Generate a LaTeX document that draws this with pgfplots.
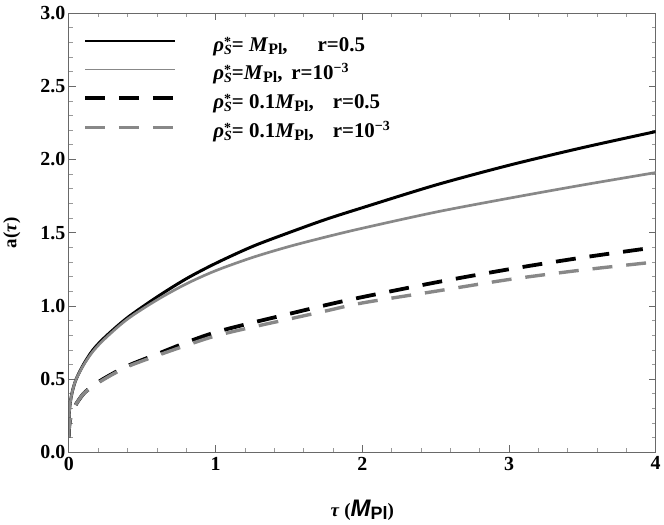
\documentclass[border=0pt]{standalone}
\usepackage{fontspec}
\setmainfont{Liberation Serif}
\setsansfont{Liberation Sans}
\usepackage{pgfplots}
\pgfplotsset{compat=1.18}

\definecolor{lgray}{RGB}{136,136,136}
\definecolor{framegray}{RGB}{105,105,105}

\newcommand{\rhoS}{{\fontsize{21}{21}\selectfont\itshape ρ}\rlap{\raisebox{5pt}{\fontsize{14}{14}\selectfont *}}\raisebox{-3pt}{\fontsize{14}{14}\selectfont\itshape S}}
\newcommand{\MPl}{\textit{M}\raisebox{-3pt}{\fontsize{16}{16}\selectfont Pl}}

\pgfplotstableread{
x y
0 0.12
0.002 0.25
0.01 0.34
0.025 0.42
0.05 0.50
0.1 0.60
0.165 0.70
0.25 0.79
0.4 0.92
0.6 1.06
0.8 1.185
1 1.29
1.25 1.405
1.5 1.50
1.75 1.59
2 1.67
2.5 1.825
3 1.96
3.5 2.08
4 2.19
}\bs

\pgfplotstableread{
x y
0 0.12
0.002 0.25
0.01 0.34
0.025 0.42
0.05 0.50
0.1 0.595
0.165 0.69
0.25 0.78
0.4 0.91
0.6 1.04
0.8 1.15
1 1.24
1.25 1.33
1.5 1.405
1.75 1.47
2 1.53
2.5 1.64
3 1.735
3.5 1.825
4 1.91
}\gs

\pgfplotstableread{
x y
0 0.10
0.002 0.17
0.01 0.23
0.025 0.28
0.05 0.33
0.1 0.40
0.165 0.455
0.25 0.51
0.4 0.59
0.6 0.67
0.8 0.75
1 0.82
1.25 0.885
1.5 0.945
1.75 1.005
2 1.06
2.5 1.16
3 1.25
3.5 1.33
4 1.40
}\bd

\pgfplotstableread{
x y
0 0.10
0.002 0.17
0.01 0.23
0.025 0.28
0.05 0.33
0.1 0.40
0.165 0.45
0.25 0.505
0.4 0.585
0.6 0.66
0.8 0.73
1 0.795
1.25 0.855
1.5 0.91
1.75 0.965
2 1.02
2.5 1.10
3 1.18
3.5 1.245
4 1.30
}\gd

\begin{document}
\begin{tikzpicture}
\begin{axis}[
  scale only axis, width=589pt, height=441pt,
  xmin=0, xmax=4, ymin=0, ymax=3,
  xtick={0,1,2,3,4}, ytick={0,0.5,1,1.5,2,2.5,3},
  minor x tick num=4, minor y tick num=4,
  tick align=inside, major tick length=7pt, minor tick length=4pt,
  axis line style={framegray, line width=0.8pt},
  major tick style={framegray, line width=0.7pt},
  minor tick style={gray!80, line width=0.6pt},
  /pgf/number format/assume math mode=true,
  ticklabel style={font=\fontsize{20}{20}\selectfont\bfseries},
  yticklabel style={/pgf/number format/.cd, fixed, fixed zerofill, precision=1},
  xticklabel style={yshift=-1pt},
  xlabel={\textit{τ} (\raisebox{0pt}{\fontsize{24}{24}\selectfont\sffamily\itshape M}\raisebox{-3pt}{\fontsize{18}{18}\selectfont\sffamily Pl})},
  ylabel={a(\textit{τ})},
  label style={font=\fontsize{19}{19}\selectfont\bfseries},
  xlabel style={at={(axis description cs:0.5,-0.132)}, anchor=center},
  ylabel style={at={(axis description cs:-0.097,0.5)}, anchor=center},
  legend image code/.code={\draw[#1] (0pt,5pt) -- (90pt,5pt); \path (127pt,5pt);},
  legend cell align=left,
  legend style={draw=none, fill=none, at={(axis description cs:0.024,0.950)}, anchor=north west,
    font=\fontsize{21}{21}\selectfont\bfseries,
    inner sep=0pt, column sep=0pt, row sep=8pt,
    nodes={inner sep=0pt, text height=16pt, text depth=5pt}},
]
\addplot[black, line width=3pt, smooth, legend image post style={line width=2.2pt}] table[x=x,y=y] {\bs};
\addlegendentry{\rhoS= \MPl,\hspace{30pt}r=0.5}
\addplot[lgray, line width=2.7pt, smooth, legend image post style={line width=1.8pt}] table[x=x,y=y] {\gs};
\addlegendentry{\rhoS=\MPl,\hspace{9pt}r=10\raisebox{7pt}{\fontsize{14}{14}\selectfont −3}}
\addplot[black, line width=3.8pt, smooth, dash pattern=on 20pt off 14pt] table[x=x,y=y] {\bd};
\addlegendentry{\rhoS= 0.1\MPl,\hspace{19pt}r=0.5}
\addplot[lgray, line width=3.4pt, smooth, dash pattern=on 20pt off 14pt] table[x=x,y=y] {\gd};
\addlegendentry{\rhoS= 0.1\MPl,\hspace{19pt}r=10\raisebox{7pt}{\fontsize{14}{14}\selectfont −3}}
\end{axis}
\path (current axis.south west) ++(-69pt,-72pt) coordinate (bl);
\path (current axis.north east) ++(6pt,13pt) coordinate (tr);
\end{tikzpicture}
\end{document}
